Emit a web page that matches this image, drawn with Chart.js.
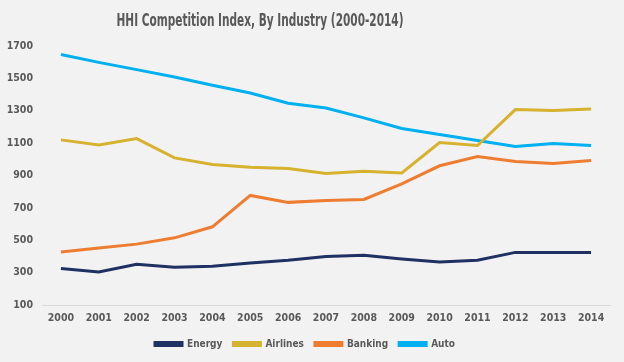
<!DOCTYPE html>
<html>
<head>
<meta charset="utf-8">
<script src="https://cdn.jsdelivr.net/npm/chart.js@4.4.0/dist/chart.umd.min.js"></script>
<style>
  html, body { margin: 0; padding: 0; background: #f2f2f2; }
  #wrap { width: 624px; height: 362px; }
</style>
</head>
<body>
<div id="wrap"><canvas id="myChart" width="624" height="362"></canvas></div>
<script>
const years = ['2000', '2001', '2002', '2003', '2004', '2005', '2006', '2007', '2008', '2009', '2010', '2011', '2012', '2013', '2014'];
const energy = [326, 304, 351, 333, 339, 359, 376, 400, 408, 384, 365, 376, 425, 425, 425];
const airlines = [1120, 1089, 1128, 1009, 968, 951, 943, 912, 927, 916, 1104, 1085, 1307, 1301, 1311];
const banking = [427, 452, 476, 515, 583, 777, 734, 745, 752, 848, 960, 1017, 986, 974, 993];
const auto = [1647, 1599, 1554, 1509, 1457, 1410, 1346, 1317, 1256, 1190, 1153, 1116, 1079, 1098, 1085];
const titleText = 'HHI Competition Index, By Industry (2000-2014)';

const textColor = '#595959';
const fontFam = "'DejaVu Sans Condensed', 'Liberation Sans', sans-serif";

// title is drawn a bit left of centre in the original, so draw it by hand
const titlePlugin = {
    id: 'titleLeft',
    afterDraw(chart) {
        const c = chart.ctx;
        c.save();
        c.fillStyle = textColor;
        c.font = "bold 17px " + fontFam;
        c.textAlign = 'center';
        c.textBaseline = 'middle';
        c.fillText(titleText, 260, 22, 287);
        c.restore();
    }
};

const ctx = document.getElementById('myChart');

function serie(label, data, color) {
    return {
        label: label,
        data: data,
        borderColor: color,
        backgroundColor: color,
        borderWidth: 3,
        pointRadius: 0,
        pointHoverRadius: 0,
        tension: 0
    };
}

let chart = new Chart(ctx, {
    type: 'line',
    data: {
        labels: years,
        datasets: [
            serie('Energy', energy, '#1f3162'),
            serie('Airlines', airlines, '#d6b22e'),
            serie('Banking', banking, '#ee7d31'),
            serie('Auto', auto, '#00b0f0')
        ]
    },
    plugins: [titlePlugin],
    options: {
        responsive: false,
        animation: false,
        layout: {
            padding: { top: 46, left: 0, right: 14, bottom: 3 }
        },
        scales: {
            x: {
                offset: true,
                afterFit: function (scale) { scale.height = 23; },
                grid: { display: false, drawTicks: false },
                border: { display: true, color: '#d9d9d9', width: 1 },
                ticks: {
                    color: textColor,
                    font: { family: fontFam, size: 10.5, weight: 'bold' },
                    padding: 7,
                    maxRotation: 0,
                    autoSkip: false
                }
            },
            y: {
                min: 100,
                max: 1700,
                afterFit: function (scale) { scale.width = 42; },
                grid: { display: false, drawTicks: false },
                border: { display: false },
                ticks: {
                    stepSize: 200,
                    color: textColor,
                    font: { family: fontFam, size: 10.5, weight: 'bold' },
                    padding: 9,
                    callback: function (v) { return String(v); }
                }
            }
        },
        plugins: {
            title: { display: false },
            tooltip: { enabled: false },
            legend: {
                position: 'bottom',
                labels: {
                    boxWidth: 27,
                    boxHeight: 3,
                    color: textColor,
                    font: { family: fontFam, size: 10, weight: 'bold' },
                    padding: 11
                }
            }
        }
    }
});
</script>
</body>
</html>
